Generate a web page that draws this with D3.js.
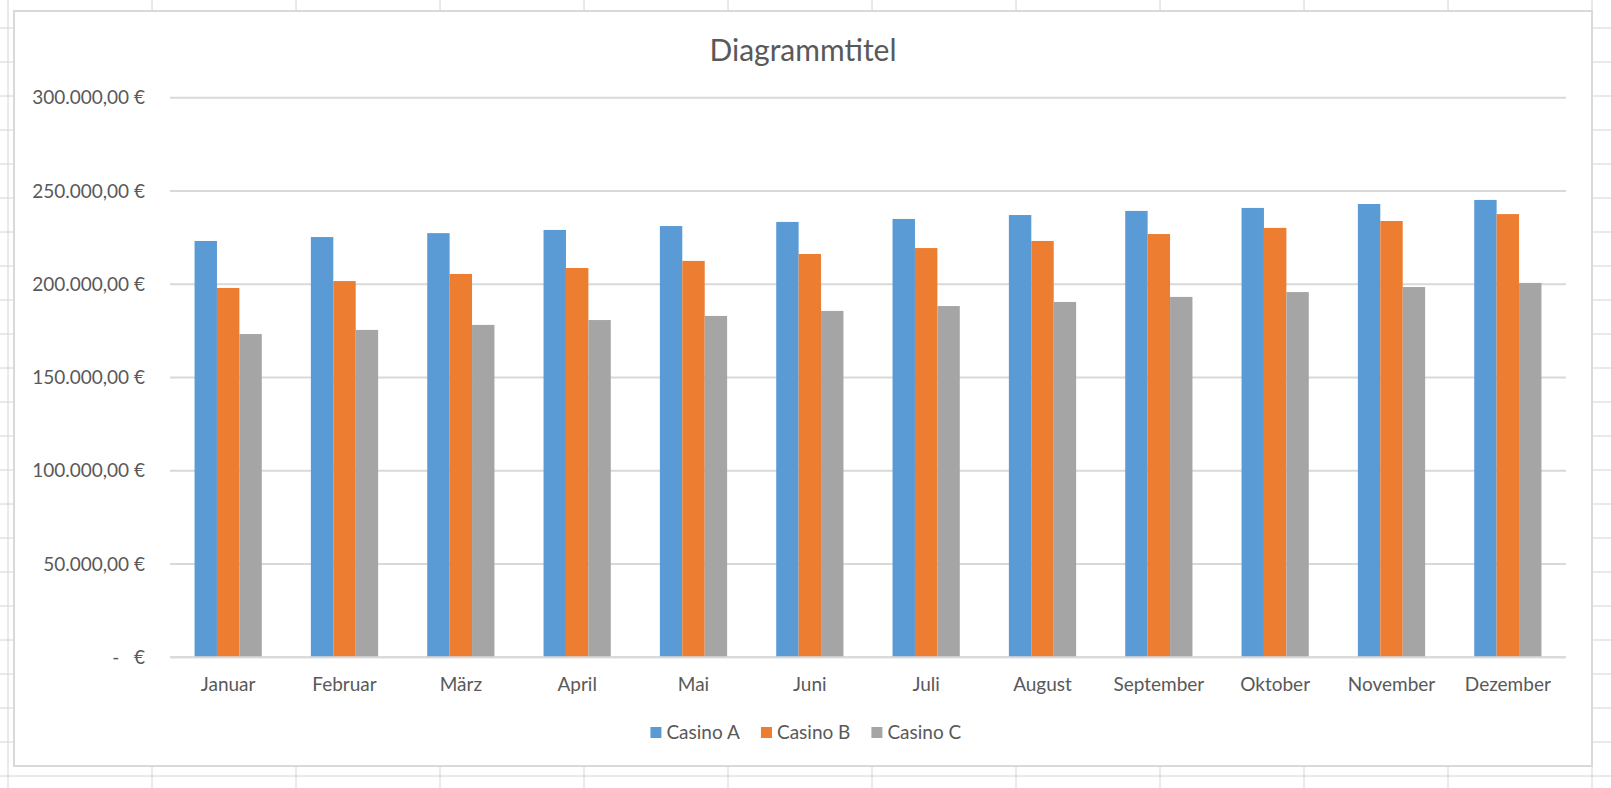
<!DOCTYPE html>
<html>
<head>
<meta charset="utf-8">
<script src="https://cdn.jsdelivr.net/npm/d3@7"></script>
<style>
  html, body { margin: 0; padding: 0; background: #fff; }
  svg { display: block; }
  text { font-family: Lato, "Open Sans", sans-serif; fill: #595959; }
</style>
</head>
<body>
<svg id="chart" width="1611" height="788"></svg>
<script>
const months = ["Januar","Februar","März","April","Mai","Juni","Juli","August","September","Oktober","November","Dezember"];
const seriesNames = ["Casino A","Casino B","Casino C"];
const casinoA = [223200,225300,227400,229100,231200,233400,235000,237100,239300,240900,243000,245200];
const casinoB = [198000,201700,205500,208700,212500,216200,219400,223200,226900,230200,233900,237600];
const casinoC = [173300,175500,178200,180800,183000,185700,188300,190500,193200,195800,198500,200700];
const yTicks = [0,50000,100000,150000,200000,250000,300000];
const colors = ["#5B9BD5","#ED7D31","#A5A5A5"];

const W = 1611, H = 788;
const svg = d3.select("#chart");

// spreadsheet background grid
const bg = svg.append("g");
const colLines = d3.range(8, W, 144);
const rowLines = d3.range(776, 0, -34);
bg.selectAll("line.v").data(colLines).join("line")
  .attr("x1", d => d).attr("x2", d => d).attr("y1", 0).attr("y2", H)
  .attr("stroke", "#d4d4d4").attr("stroke-width", 1);
bg.selectAll("line.h").data(rowLines).join("line")
  .attr("x1", 0).attr("x2", W).attr("y1", d => d).attr("y2", d => d)
  .attr("stroke", "#d4d4d4").attr("stroke-width", 1);

// chart area
svg.append("rect").attr("x", 14).attr("y", 11).attr("width", 1578).attr("height", 755)
  .attr("fill", "#fff").attr("stroke", "#d9d9d9").attr("stroke-width", 2);

const plot = { left: 170, right: 1566, top: 97.7, bottom: 657.3 };

const x = d3.scaleBand().domain(months).range([plot.left, plot.right])
  .paddingInner(0.422).paddingOuter(0.211);
const xs = d3.scaleBand().domain(seriesNames).range([0, x.bandwidth()]);
const y = d3.scaleLinear().domain([0, 300000]).range([plot.bottom, plot.top]);

const locale = d3.formatLocale({decimal: ",", thousands: ".", grouping: [3], currency: ["", " €"]});
const fmt = locale.format(",.2f");
const tickFmt = v => v === 0 ? "-   €" : fmt(v) + " €";

// gridlines
svg.append("g").selectAll("line").data(yTicks).join("line")
  .attr("x1", plot.left).attr("x2", plot.right)
  .attr("y1", d => y(d)).attr("y2", d => y(d))
  .attr("stroke", "#d9d9d9").attr("stroke-width", 2);

// y axis labels
const yAxis = svg.append("g").attr("transform", `translate(${plot.left},0)`)
  .call(d3.axisLeft(y).tickValues(yTicks).tickFormat(tickFmt).tickSize(0).tickPadding(25));
yAxis.select(".domain").remove();
yAxis.selectAll("text").attr("font-size", 19).style("font-family", "Lato, sans-serif")
  .attr("fill", "#595959").style("white-space", "pre").attr("xml:space", "preserve");

// bars
const series = [casinoA, casinoB, casinoC];
series.forEach((vals, si) => {
  svg.append("g").selectAll("rect").data(vals.map((v, i) => ({m: months[i], v}))).join("rect")
    .attr("x", d => x(d.m) + xs(seriesNames[si]))
    .attr("width", xs.bandwidth())
    .attr("y", d => y(d.v))
    .attr("height", d => y(0) - y(d.v))
    .attr("fill", colors[si]);
});

// x axis
const xAxis = svg.append("g").attr("transform", `translate(0,${plot.bottom})`)
  .call(d3.axisBottom(x).tickSize(0).tickPadding(20));
xAxis.select(".domain").attr("stroke", "#d9d9d9").attr("stroke-width", 2)
  .attr("d", `M${plot.left},0H${plot.right}`);
xAxis.selectAll("text").attr("font-size", 19).style("font-family", "Lato, sans-serif").attr("fill", "#595959");

// title
svg.append("text").attr("x", 803).attr("y", 61).attr("text-anchor", "middle")
  .attr("font-size", 30).text("Diagrammtitel");

// legend
const legend = svg.append("g");
const items = legend.selectAll("g").data(seriesNames).join("g");
items.append("rect").attr("width", 11).attr("height", 11).attr("y", 727)
  .attr("fill", (d, i) => colors[i]);
items.append("text").attr("x", 16).attr("y", 738.5).attr("font-size", 19).text(d => d);
let lx = 0;
const gap = 21;
const widths = [];
items.each(function() { widths.push(this.getBBox().width); });
const total = d3.sum(widths) + gap * (widths.length - 1);
lx = 806 - total / 2;
items.attr("transform", (d, i) => {
  const t = `translate(${lx},0)`;
  lx += widths[i] + gap;
  return t;
});
</script>
</body>
</html>
